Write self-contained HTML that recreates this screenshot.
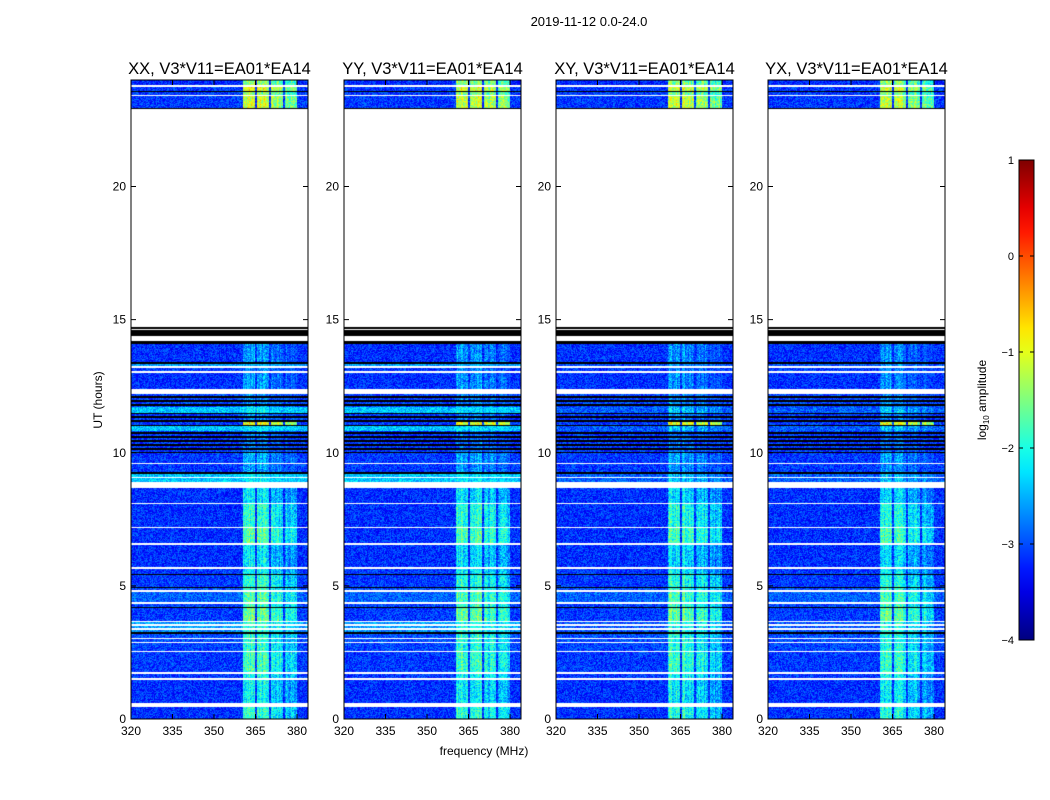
<!DOCTYPE html>
<html><head><meta charset="utf-8">
<style>
html,body{margin:0;padding:0;background:#fff;}
#wrap{position:relative;width:1050px;height:800px;overflow:hidden;font-family:"Liberation Sans","DejaVu Sans",sans-serif;}
canvas{position:absolute;}
svg{position:absolute;left:0;top:0;}
</style></head>
<body>
<div id="wrap">
<svg id="svg" width="1050" height="800"></svg>
</div>
<script>
// ---- data ----
const panelTitles = ["XX, V3*V11=EA01*EA14","YY, V3*V11=EA01*EA14","XY, V3*V11=EA01*EA14","YX, V3*V11=EA01*EA14"];
const xTicks = [320,335,350,365,380];
const yTicks = [0,5,10,15,20];
const cbTicks = [1,0,-1,-2,-3,-4];
// time segments: [startHour, endHour, kind(d=data,w=white/no data,k=flagged black,s=striped), bgLog, rfiLog]
const segStart = [0,0.45,0.6,1.45,1.55,1.7,1.76,2.5,2.55,2.85,2.9,3.0,3.05,3.2,3.25,3.34,3.4,3.5,3.55,3.64,3.68,4.16,4.2,4.33,4.38,4.78,4.83,4.92,4.96,5.42,5.46,5.62,5.7,6.55,6.6,7.18,7.23,8.08,8.13,8.67,8.9,9.05,9.1,9.22,9.28,9.58,9.62,10.0,10.8,11.0,11.05,11.15,11.5,11.7,12.22,12.38,13.0,13.08,13.18,13.24,13.35,13.42,14.1,14.18,14.37,14.6,14.64,14.72,22.9,22.95,23.4,23.45,23.55,23.6,23.75,23.8];
const segEnd   = [0.45,0.6,1.45,1.55,1.7,1.76,2.5,2.55,2.85,2.9,3.0,3.05,3.2,3.25,3.34,3.4,3.5,3.55,3.64,3.68,4.16,4.2,4.33,4.38,4.78,4.83,4.92,4.96,5.42,5.46,5.62,5.7,6.55,6.6,7.18,7.23,8.08,8.13,8.67,8.9,9.05,9.1,9.22,9.28,9.58,9.62,10.0,10.8,11.0,11.05,11.15,11.5,11.7,12.22,12.38,13.0,13.08,13.18,13.24,13.35,13.42,14.1,14.18,14.37,14.6,14.64,14.72,22.9,22.95,23.4,23.45,23.55,23.6,23.75,23.8,24.0];
const segKind  = ["d","w","d","w","d","w","d","w","d","w","d","w","d","k","d","w","d","w","d","w","d","k","d","w","d","w","d","k","d","k","d","w","d","w","d","w","d","w","d","w","d","w","d","k","d","w","d","s","d","k","d","s","d","s","w","d","w","d","w","d","k","d","k","w","k","w","k","w","k","d","w","d","k","d","w","d"];
const segBg    = [-3.15,0,-3.15,0,-3.1,0,-3.1,0,-3.05,0,-3.0,0,-3.0,0,-2.7,0,-2.6,0,-2.6,0,-3.1,0,-3.05,0,-2.9,0,-3.0,0,-3.1,0,-3.1,0,-3.15,0,-3.15,0,-3.15,0,-3.15,0,-2.4,0,-2.4,0,-3.1,0,-3.1,-3.1,-2.4,0,-3.1,-3.1,-2.4,-3.05,0,-3.15,0,-3.1,0,-2.6,0,-3.15,0,0,0,0,0,0,0,-3.1,0,-3.1,0,-3.1,0,-3.2];
const segRfi   = [-1.9,0,-2.1,0,-2.0,0,-1.8,0,-1.9,0,-1.9,0,-1.9,0,-1.9,0,-1.9,0,-1.9,0,-1.6,0,-1.8,0,-1.7,0,-1.9,0,-1.9,0,-2.1,0,-2.2,0,-1.7,0,-1.9,0,-2.2,0,-2.3,0,-2.3,0,-2.6,0,-2.5,-2.8,-2.3,0,-0.9,-2.7,-2.3,-2.7,0,-2.6,0,-2.7,0,-2.6,0,-2.6,0,0,0,0,0,0,0,-1.1,0,-1.4,0,-1.0,0,-1.4];
// RFI frequency bands (MHz) and relative levels
const bandLo = [360.5,365.5,370.5,375.6];
const bandHi = [364.8,369.8,375.0,380.0];
const bandRel = [0,-0.05,-0.3,-0.45];
// per-panel adjustments
const panelCyan = [1,1,0.25,0.25];
const panelRfiOff = [0,0,-0.05,-0.1];

// ---- geometry ----
const panelLeft=[131,344,556,768], PW=177, PT=80, PB=719, PH=PB-PT;
const xMin=320, xMax=320+PW/2.767;
const X=(f,i)=>panelLeft[i]+(f-xMin)/(xMax-xMin)*PW;
const Y=h=>PB-h/24*PH;
const CBX=1019, CBW=15, CBT=160, CBB=640;
const CBY=v=>CBT+(1-v)/5*(CBB-CBT);

function jet(t){t=Math.max(0,Math.min(1,t));
 const r=Math.max(0,Math.min(1,1.5-Math.abs(4*t-3))),g=Math.max(0,Math.min(1,1.5-Math.abs(4*t-2))),b=Math.max(0,Math.min(1,1.5-Math.abs(4*t-1)));
 return [r*255|0,g*255|0,b*255|0];}
function hash(a,b,c){let h=(a*374761393+b*668265263+c*2147483647)|0;h=(h^(h>>>13))*1274126177|0;h^=h>>>16;return ((h>>>0)%10000)/10000;}

const wrap=document.getElementById('wrap');
const svg=document.getElementById('svg');
const NS='http://www.w3.org/2000/svg';
function mk(tag,attrs,txt){const e=document.createElementNS(NS,tag);for(const k in attrs)e.setAttribute(k,attrs[k]);if(txt!==undefined)e.textContent=txt;svg.appendChild(e);return e;}

for(let p=0;p<4;p++){
 const cv=document.createElement('canvas');
 
 
 cv.width=PW;cv.height=PH;cv.style.left=panelLeft[p]+'px';cv.style.top=PT+'px';
 wrap.insertBefore(cv,svg);
 const ctx=cv.getContext('2d');const img=ctx.createImageData(PW,PH);const d=img.data;
 for(let s=0;s<segStart.length;s++){
  const y0=Math.round(Y(segEnd[s])-PT), y1=Math.round(Y(segStart[s])-PT);
  for(let py=Math.max(0,y0);py<Math.min(PH,Math.max(y1,y0+1));py++){
   for(let px=0;px<PW;px++){
    const o=(py*PW+px)*4;let col;
    const kind=segKind[s];
    if(kind==='w'){col=[255,255,255];}
    else if(kind==='k'||(kind==='s'&&(py%4)<2)){col=[0,0,0];}
    else{
     const f=xMin+(px+0.5)/PW*(xMax-xMin);
     let bg=segBg[s];
     if(bg>-2.9) bg=-3.1+(bg+3.1)*panelCyan[p];
     let v=bg+(hash(px,py,p)-0.5)*0.75;
     for(let b=0;b<bandLo.length;b++){
      if(f>=bandLo[b]&&f<=bandHi[b]){
       const colVar=(hash(px,3,p+11)-0.5)*0.5;
       const r=segRfi[s]+bandRel[b]+panelRfiOff[p]+colVar+(hash(px,py,p+7)-0.5)*0.9;
       v=Math.max(v,r);
      }
     }
     col=jet((v+4)/5);
    }
    d[o]=col[0];d[o+1]=col[1];d[o+2]=col[2];d[o+3]=255;
   }
  }
 }
 ctx.putImageData(img,0,0);

 const L=panelLeft[p];
 mk('rect',{x:L,y:PT,width:PW,height:PH,fill:'none',stroke:'#000','stroke-width':1,});
 mk('text',{x:L+PW/2,y:74,'text-anchor':'middle','font-size':16.5,fill:'#000',},panelTitles[p]);
 xTicks.forEach(t=>{const x=X(t,p);
  mk('line',{x1:x,x2:x,y1:PB,y2:PB-5,stroke:'#000',});
  mk('line',{x1:x,x2:x,y1:PT,y2:PT+5,stroke:'#000',});
  mk('text',{x:x,y:PB+16,'text-anchor':'middle','font-size':12,fill:'#000',},t);
 });
 yTicks.forEach(t=>{const y=Y(t);
  mk('line',{x1:L,x2:L+5,y1:y,y2:y,stroke:'#000',});
  mk('line',{x1:L+PW,x2:L+PW-5,y1:y,y2:y,stroke:'#000',});
  mk('text',{x:L-5,y:y+4,'text-anchor':'end','font-size':12,fill:'#000',},t);
 });
}
mk('text',{x:589,y:26,'text-anchor':'middle','font-size':13,fill:'#000',},'2019-11-12 0.0-24.0');
mk('text',{x:484,y:755,'text-anchor':'middle','font-size':12,fill:'#000',},'frequency (MHz)');
mk('text',{x:102,y:400,'text-anchor':'middle','font-size':12,fill:'#000',transform:'rotate(-90 102 400)',},'UT (hours)');

// colorbar
const defs=mk('defs',{});
const grad=document.createElementNS(NS,'linearGradient');grad.setAttribute('id','jetg');grad.setAttribute('x1','0');grad.setAttribute('y1','1');grad.setAttribute('x2','0');grad.setAttribute('y2','0');
for(let i=0;i<=20;i++){const c=jet(i/20);const st=document.createElementNS(NS,'stop');st.setAttribute('offset',i/20);st.setAttribute('stop-color','rgb('+c+')');grad.appendChild(st);}
defs.appendChild(grad);
mk('rect',{x:CBX,y:CBT,width:CBW,height:CBB-CBT,fill:'url(#jetg)',stroke:'#000','stroke-width':1,});
cbTicks.forEach(t=>{const y=CBY(t);
 mk('line',{x1:CBX,x2:CBX+4,y1:y,y2:y,stroke:'#000',});
 mk('line',{x1:CBX+CBW,x2:CBX+CBW-4,y1:y,y2:y,stroke:'#000',});
 mk('text',{x:1014,y:y+4,'text-anchor':'end','font-size':11,fill:'#000',},t===0?'0':(t<0?'\u2212'+(-t):t));
});
const cl=mk('text',{x:986,y:400,'text-anchor':'middle','font-size':12,fill:'#000',transform:'rotate(-90 986 400)',});
cl.appendChild(document.createTextNode('log'));
const sub=document.createElementNS(NS,'tspan');sub.setAttribute('font-size','8');sub.setAttribute('dy','3');sub.textContent='10';cl.appendChild(sub);
const rest=document.createElementNS(NS,'tspan');rest.setAttribute('dy','-3');rest.textContent=' amplitude';cl.appendChild(rest);
</script>
</body></html>
